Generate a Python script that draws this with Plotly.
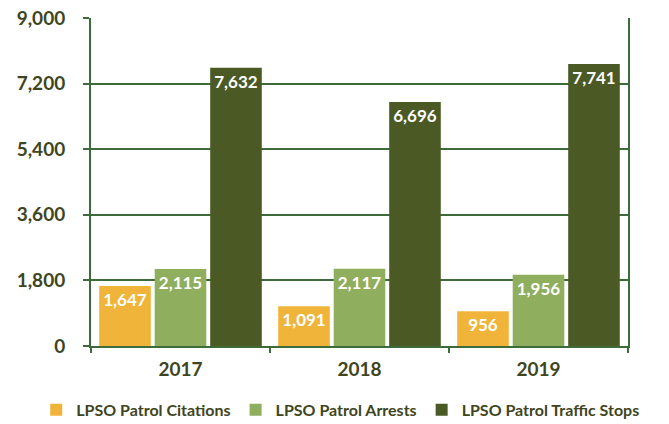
import plotly.graph_objects as go

years = ["2017", "2018", "2019"]
citations = [1647, 1091, 956]
arrests = [2115, 2117, 1956]
traffic_stops = [7632, 6696, 7741]
series_names = ["LPSO Patrol Citations", "LPSO Patrol Arrests", "LPSO Patrol Traffic Stops"]
y_ticks = [0, 1800, 3600, 5400, 7200, 9000]

colors = ["#F0B43A", "#8FAE5E", "#4B5A24"]
line_color = "#3D6B3A"
text_color = "#3E4520"
font_family = "Lato, 'Open Sans', sans-serif"

fig = go.Figure()
for name, vals, col in zip(series_names, [citations, arrests, traffic_stops], colors):
    fig.add_trace(go.Bar(
        x=years, y=vals, name=name,
        marker=dict(color=col, line=dict(width=0)),
        text=[f"{v:,}" for v in vals],
        textposition="inside", insidetextanchor="end",
        textfont=dict(color="white", size=17, family=font_family, weight="bold"),
        textangle=0,
        cliponaxis=False,
    ))

fig.update_layout(
    width=669, height=424,
    margin=dict(l=91, r=41, t=18, b=78, autoexpand=False),
    paper_bgcolor="white", plot_bgcolor="white",
    barmode="group", bargap=0.07, bargroupgap=0.07,
    font=dict(family=font_family, color=text_color, size=16),
    showlegend=True,
    legend=dict(orientation="h", x=-0.102, xanchor="left",
                y=-0.195, yanchor="middle",
                font=dict(size=16, color=text_color, family=font_family, weight="bold"),
                itemwidth=30, traceorder="normal"),
    uniformtext=dict(minsize=10, mode="show"),
)
fig.update_xaxes(
    showline=True, linecolor=line_color, linewidth=2,
    ticks="outside", tickson="boundaries", ticklen=5, tickcolor=line_color, tickwidth=2,
    tickfont=dict(size=19, color=text_color, family=font_family, weight="bold"),
    ticklabelstandoff=5,
    showgrid=False, mirror=False, automargin=False,
)
fig.update_yaxes(
    range=[0, 9000], tickvals=y_ticks, tickformat=",",
    showline=True, linecolor=line_color, linewidth=2, mirror=True,
    showgrid=True, gridcolor=line_color, gridwidth=2,
    ticks="outside", ticklen=6, tickcolor=line_color, tickwidth=2,
    tickfont=dict(size=19, color=text_color, family=font_family, weight="bold"),
    ticklabelstandoff=14, automargin=False,
    zeroline=False,
)
fig.write_html("out.html", config={"displayModeBar": False},
               post_script="document.body.style.margin='0';")
